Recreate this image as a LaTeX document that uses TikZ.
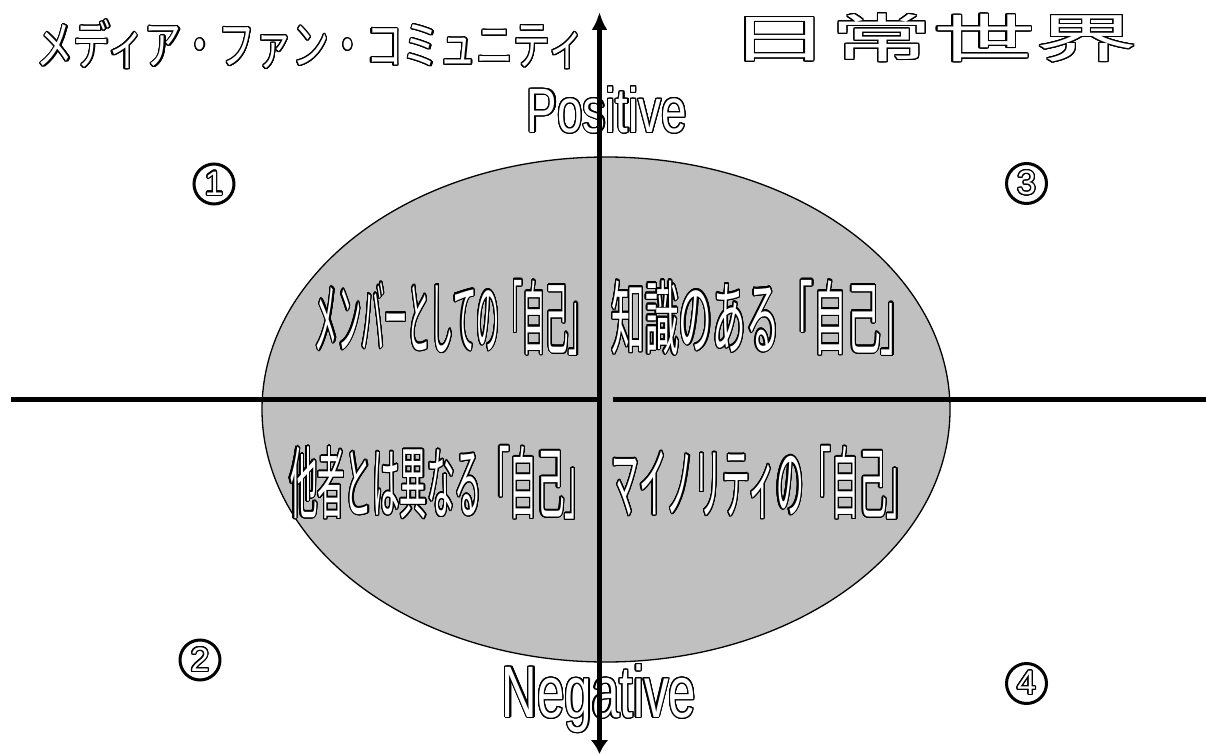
\documentclass[tikz,border=0pt]{standalone}
\usepackage{fontspec}
\setmainfont{Liberation Sans}
\newfontfamily\cjk{Noto Sans CJK JP}
\usepackage[copies]{contour}
\contourlength{1.2pt}
\contournumber{24}
\usetikzlibrary{arrows.meta}
\definecolor{ellgray}{RGB}{192,192,192}
\newcommand\olbox[3]{\contour{black}{\resizebox*{#1}{#2}{#3}}}
\tikzset{
  lbl/.style={inner sep=0pt, outer sep=0pt, text=white},
  numc/.style={circle, draw=black, line width=3pt, minimum size=40pt, inner sep=0pt, text=white},
  axis/.style={line width=5.5pt},
}
\begin{document}
\begin{tikzpicture}[x=1pt,y=-1pt]
\useasboundingbox (0,0) rectangle (1206,754);
% ellipse
\draw[fill=ellgray, line width=1.3pt] (606,409.5) ellipse [x radius=344, y radius=252.5];
% horizontal axis
\coordinate (hl) at (11,399.5);
\coordinate (hm) at (599.5,399.5);
\coordinate (hr1) at (613,399.5);
\coordinate (hr2) at (1206,399.5);
\draw[axis] (hl) -- (hm);
\draw[axis] (hr1) -- (hr2);
% titles
\node[lbl] (title) at (311,45) {\olbox{548pt}{49pt}{\cjk メディア・ファン・コミュニティ}};
\node[lbl] (world) at (933,38.5) {\olbox{410pt}{48pt}{\cjk 日常世界}};
\node[lbl] (pos) at (607,110.5) {\olbox{160pt}{46pt}{Positive}};
\node[lbl] (neg) at (599,699) {\olbox{194pt}{68pt}{Negative}};
% quadrant texts
\node[lbl] (q1) at (453.5,318) {\olbox{277pt}{75pt}{\cjk メンバーとしての「自己」}};
\node[lbl] (q3) at (763,318) {\olbox{303pt}{75pt}{\cjk 知識のある「自己」}};
\node[lbl] (q2) at (441,483) {\olbox{302pt}{73pt}{\cjk 他者とは異なる「自己」}};
\node[lbl] (q4) at (763,483) {\olbox{303pt}{73pt}{\cjk マイノリティの「自己」}};
% circled numbers
\node[numc] (n1) at (214,184) {\contour{black}{\fontsize{34}{34}\selectfont 1}};
\node[numc] (n2) at (200,660) {\contour{black}{\fontsize{34}{34}\selectfont 2}};
\node[numc] (n3) at (1026.5,183.5) {\contour{black}{\fontsize{34}{34}\selectfont 3}};
\node[numc] (n4) at (1026.5,683.5) {\contour{black}{\fontsize{34}{34}\selectfont 4}};
% vertical axis
\coordinate (vt) at (599.5,12);
\coordinate (vb) at (599.5,754);
\draw[axis, {Latex[length=18pt,width=16pt]}-{Latex[length=14pt,width=18pt]}] (vt) -- (vb);
\end{tikzpicture}
\end{document}
